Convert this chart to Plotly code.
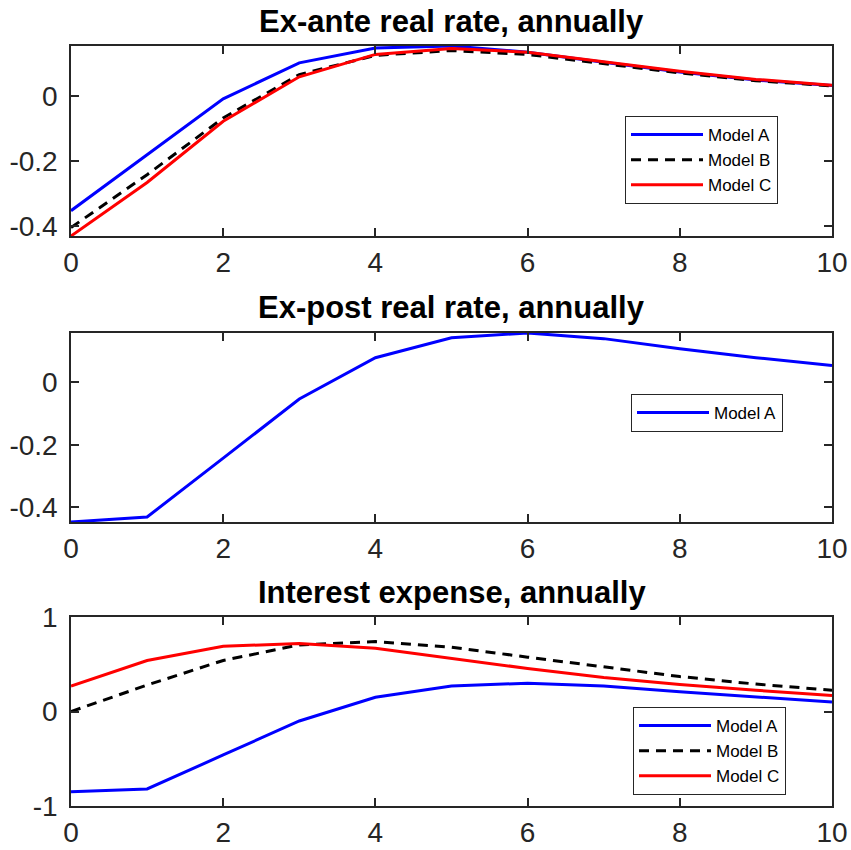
import plotly.graph_objects as go

# ---------------- data ----------------
periods = [0, 1, 2, 3, 4, 5, 6, 7, 8, 9, 10]
series_names = ["Model A", "Model B", "Model C"]

exante_a = [-0.353, -0.180, -0.008, 0.103, 0.149, 0.155, 0.136, 0.105, 0.075, 0.050, 0.033]
exante_b = [-0.405, -0.242, -0.067, 0.067, 0.126, 0.141, 0.129, 0.100, 0.072, 0.048, 0.032]
exante_c = [-0.431, -0.266, -0.077, 0.060, 0.129, 0.147, 0.136, 0.106, 0.077, 0.052, 0.034]

expost_a = [-0.447, -0.431, -0.243, -0.054, 0.078, 0.142, 0.157, 0.139, 0.107, 0.078, 0.053]

interest_a = [-0.85, -0.82, -0.46, -0.10, 0.15, 0.27, 0.30, 0.27, 0.21, 0.155, 0.10]
interest_b = [0.00, 0.28, 0.54, 0.705, 0.74, 0.68, 0.575, 0.47, 0.37, 0.29, 0.225]
interest_c = [0.27, 0.54, 0.69, 0.72, 0.67, 0.565, 0.455, 0.36, 0.285, 0.225, 0.17]

titles = ["Ex-ante real rate, annually", "Ex-post real rate, annually", "Interest expense, annually"]

x_tickvals = [0, 2, 4, 6, 8, 10]
y1_tickvals = [-0.4, -0.2, 0]
y1_ticktext = ["-0.4", "-0.2", "0"]
y1_range = [-0.431, 0.155]
y2_tickvals = [-0.4, -0.2, 0]
y2_ticktext = ["-0.4", "-0.2", "0"]
y2_range = [-0.447, 0.157]
y3_tickvals = [-1, 0, 1]
y3_ticktext = ["-1", "0", "1"]
y3_range = [-1, 1]

# ---------------- layout helpers ----------------
W, H = 851, 850
FONT = "Liberation Sans, Arial, Helvetica, sans-serif"
AX = "#262626"
BLUE, BLACK, RED = "#0000FF", "#000000", "#FF0000"
LW = 3
DASH = "10px,7px"

def px_x(p):
    return p / W

def px_y(p):
    return 1 - p / H

plot_left, plot_right = 71, 832
panels = [(46, 236), (333, 522), (617, 806)]

fig = go.Figure()

def add(x, y, name, color, dash, xa, ya, legend, show=True):
    fig.add_trace(go.Scatter(
        x=x, y=y, name=name, mode="lines",
        line=dict(color=color, width=LW, dash=dash),
        xaxis=xa, yaxis=ya, legend=legend, showlegend=show,
    ))

add(periods, exante_a, series_names[0], BLUE, "solid", "x", "y", "legend")
add(periods, exante_b, series_names[1], BLACK, DASH, "x", "y", "legend")
add(periods, exante_c, series_names[2], RED, "solid", "x", "y", "legend")

add(periods, expost_a, series_names[0], BLUE, "solid", "x2", "y2", "legend2")

add(periods, interest_a, series_names[0], BLUE, "solid", "x3", "y3", "legend3")
add(periods, interest_b, series_names[1], BLACK, DASH, "x3", "y3", "legend3")
add(periods, interest_c, series_names[2], RED, "solid", "x3", "y3", "legend3")

tickfont = dict(family=FONT, size=28, color=AX)

def xaxis_def(anchor, top, bottom):
    return dict(
        domain=[px_x(plot_left), px_x(plot_right)], anchor=anchor,
        range=[0, 10], tickvals=x_tickvals, ticks="inside", ticklen=8,
        tickwidth=1.5, tickcolor=AX, showline=True, linecolor=AX, linewidth=1.5,
        mirror="ticks", showgrid=False, zeroline=False, tickfont=tickfont,
        ticklabelstandoff=1, automargin=False,
    )

def yaxis_def(anchor, top, bottom, rng, tv, tt):
    return dict(
        domain=[px_y(bottom), px_y(top)], anchor=anchor,
        range=rng, tickvals=tv, ticktext=tt, ticks="inside", ticklen=8,
        tickwidth=1.5, tickcolor=AX, showline=True, linecolor=AX, linewidth=1.5,
        mirror="ticks", showgrid=False, zeroline=False, tickfont=tickfont,
        ticklabelstandoff=6, automargin=False,
    )

legend_common = dict(
    font=dict(family=FONT, size=17, color="#000000"),
    bgcolor="#FFFFFF", bordercolor=AX, borderwidth=1,
    xanchor="left", yanchor="top", itemwidth=72,
    tracegroupgap=0, itemclick=False,
)

fig.update_layout(
    width=W, height=H,
    margin=dict(l=0, r=0, t=0, b=0, autoexpand=False),
    paper_bgcolor="#FFFFFF", plot_bgcolor="#FFFFFF",
    xaxis=xaxis_def("y", *panels[0]),
    yaxis=yaxis_def("x", *panels[0], y1_range, y1_tickvals, y1_ticktext),
    xaxis2=xaxis_def("y2", *panels[1]),
    yaxis2=yaxis_def("x2", *panels[1], y2_range, y2_tickvals, y2_ticktext),
    xaxis3=xaxis_def("y3", *panels[2]),
    yaxis3=yaxis_def("x3", *panels[2], y3_range, y3_tickvals, y3_ticktext),
    legend=dict(x=px_x(625), y=px_y(116), **legend_common),
    legend2=dict(x=px_x(631), y=px_y(394), **legend_common),
    legend3=dict(x=px_x(633), y=px_y(707), **legend_common),
)

title_y_px = [22, 308, 592]
for t, ypx in zip(titles, title_y_px):
    fig.add_annotation(
        text=f"<b>{t}</b>", xref="paper", yref="paper",
        x=px_x((plot_left + plot_right) / 2), y=px_y(ypx),
        xanchor="center", yanchor="middle", showarrow=False,
        font=dict(family=FONT, size=31, color="#000000"),
    )

fig.write_html(
    "out.html",
    config={"displayModeBar": False},
    post_script="document.body.style.margin='0px';document.body.style.overflow='hidden';",
)
